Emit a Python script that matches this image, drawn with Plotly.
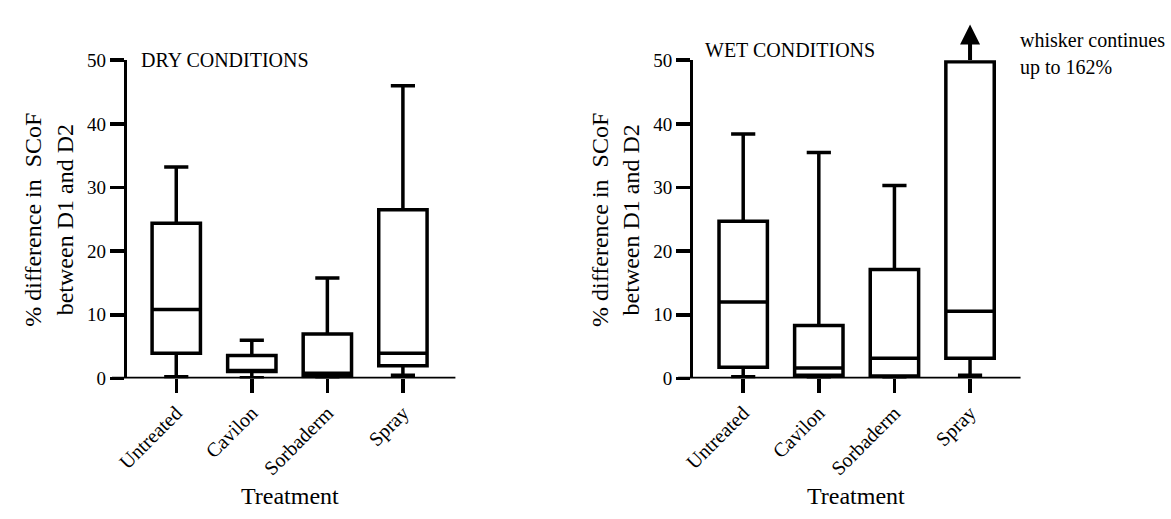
import plotly.graph_objects as go

W, H = 1171, 519

categories = ["Untreated", "Cavilon", "Sorbaderm", "Spray"]

# Dry conditions (left panel)
dry_min = [0.25, 0.1, 0.1, 0.5]
dry_q1 = [3.97, 1.1, 0.3, 2.0]
dry_median = [10.85, 1.2, 0.8, 3.97]
dry_q3 = [24.4, 3.6, 7.0, 26.5]
dry_max = [33.2, 6.0, 15.8, 46.0]

# Wet conditions (right panel)
wet_min = [0.25, 0.2, 0.2, 0.5]
wet_q1 = [1.76, 0.5, 0.4, 3.17]
wet_median = [12.0, 1.66, 3.17, 10.57]
wet_q3 = [24.7, 8.3, 17.1, 49.75]
wet_max = [38.4, 35.5, 30.3, 162.0]

y_ticks = [0, 10, 20, 30, 40, 50]

FONT = "Liberation Serif"
LW = 3.5


def px_x(p):
    return p / W


def px_y(p):
    return 1 - p / H


fig = go.Figure()

box_style = dict(
    line=dict(color="black", width=LW),
    fillcolor="white",
    width=0.64,
    whiskerwidth=0.5,
    boxpoints=False,
    showlegend=False,
    hoverinfo="skip",
)

fig.add_trace(go.Box(
    x=categories, q1=dry_q1, median=dry_median, q3=dry_q3,
    lowerfence=dry_min, upperfence=dry_max,
    xaxis="x", yaxis="y", **box_style))

fig.add_trace(go.Box(
    x=categories, q1=wet_q1, median=wet_median, q3=wet_q3,
    lowerfence=wet_min, upperfence=wet_max,
    xaxis="x2", yaxis="y2", **box_style))

ydom = [px_y(384), px_y(52.3)]

xaxis_common = dict(
    type="category",
    showline=False, showgrid=False, zeroline=False,
    ticks="outside", ticklen=14, tickwidth=LW, tickcolor="black",
    tickangle=-45,
    tickfont=dict(family=FONT, size=20, color="black"),
)
yaxis_common = dict(
    range=[0, 50], autorange=False,
    tickvals=y_ticks,
    showline=True, linewidth=LW, linecolor="black",
    showgrid=False, zeroline=False,
    ticks="outside", ticklen=14, tickwidth=LW, tickcolor="black",
    tickfont=dict(family=FONT, size=19, color="black"),
)

fig.update_layout(
    width=W, height=H,
    margin=dict(l=0, r=0, t=0, b=0),
    paper_bgcolor="white", plot_bgcolor="white",
    xaxis=dict(domain=[px_x(116.5), px_x(448)], range=[-0.648, 3.695],
               anchor="y", **xaxis_common),
    yaxis=dict(domain=ydom, anchor="x", **yaxis_common),
    xaxis2=dict(domain=[px_x(688.5), px_x(1019)], range=[-0.658, 3.668],
                anchor="y2", **xaxis_common),
    yaxis2=dict(domain=ydom, anchor="x2", **yaxis_common),
)

# x-axis baselines (extend left to the end of the y ticks, Prism style)
for x0, x1, yref in [(101, 448, "y"), (673, 1019, "y2")]:
    fig.add_shape(type="line", xref="paper", yref=yref,
                  x0=px_x(x0), x1=px_x(x1), y0=0, y1=0,
                  line=dict(color="black", width=LW))

ann = []
# panel titles
ann.append(dict(text="DRY CONDITIONS", x=px_x(128), y=px_y(52), xref="paper", yref="paper",
                xanchor="left", yanchor="middle", showarrow=False,
                font=dict(family=FONT, size=20, color="black")))
ann.append(dict(text="WET CONDITIONS", x=px_x(698), y=px_y(41.5), xref="paper", yref="paper",
                xanchor="left", yanchor="middle", showarrow=False,
                font=dict(family=FONT, size=20, color="black")))
# axis titles
ytitle = "% difference in \u00a0SCoF<br>between D1 and D2"
for xc in (37, 609):
    ann.append(dict(text=ytitle, x=px_x(xc), y=px_y(219), xref="paper", yref="paper",
                    xanchor="center", yanchor="middle", showarrow=False, textangle=-90,
                    font=dict(family=FONT, size=24, color="black")))
for xc in (281, 853):
    ann.append(dict(text="Treatment", x=px_x(xc), y=px_y(507), xref="paper", yref="paper",
                    xanchor="center", yanchor="middle", showarrow=False,
                    font=dict(family=FONT, size=24, color="black")))
# whisker note
ann.append(dict(text="whisker continues", x=px_x(1016), y=px_y(31), xref="paper", yref="paper",
                xanchor="left", yanchor="middle", showarrow=False,
                font=dict(family=FONT, size=20, color="black")))
ann.append(dict(text="up to 162%", x=px_x(1016), y=px_y(60), xref="paper", yref="paper",
                xanchor="left", yanchor="middle", showarrow=False,
                font=dict(family=FONT, size=20, color="black")))
# arrow showing whisker continuation
ann.append(dict(text="", x="Spray", y=px_y(15), xref="x2", yref="paper",
                ax=0, ay=37, axref="pixel", ayref="pixel",
                showarrow=True, arrowhead=2, arrowsize=1, arrowwidth=4,
                arrowcolor="black"))
fig.update_layout(annotations=ann)

fig.write_html(
    "out.html",
    config={"displayModeBar": False, "staticPlot": True},
    post_script="document.body.style.margin='0';document.body.style.overflow='hidden';",
)
